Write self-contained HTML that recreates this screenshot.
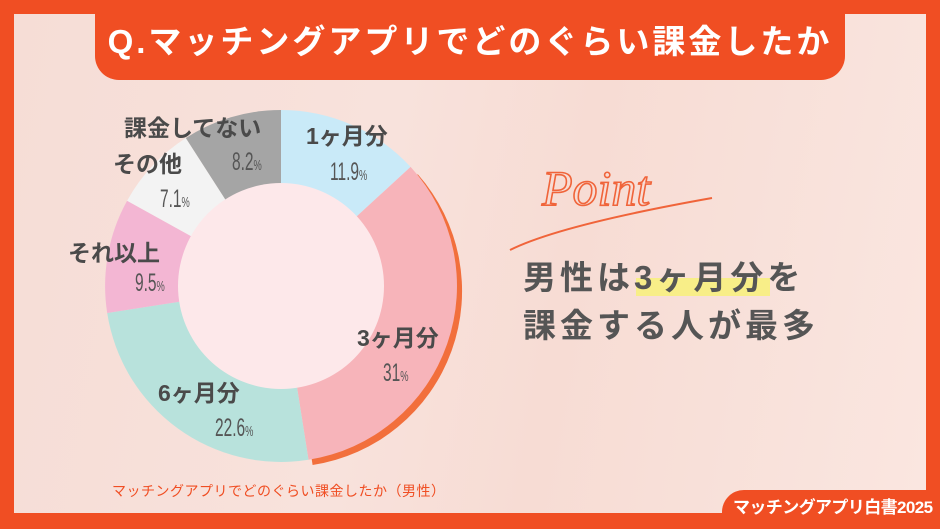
<!DOCTYPE html>
<html><head><meta charset="utf-8"><style>
*{margin:0;padding:0;box-sizing:border-box}
html,body{width:940px;height:529px;overflow:hidden}
body{position:relative;background:#F04E23;font-family:"Liberation Sans","Noto Sans CJK JP",sans-serif}
.inner{position:absolute;left:14px;top:14px;width:912px;height:499px;background:linear-gradient(100deg,#F6DDD6 0%,#F8E2DC 40%,#F7DCD4 60%,#FAE6E0 100%)}
.tab{position:absolute;left:95px;top:0;width:750px;height:80px;background:#F04E23;border-radius:0 0 24px 24px;color:#fff;font-weight:bold;font-size:33px;line-height:84px;text-align:center;letter-spacing:3px;white-space:nowrap}
.ft{position:absolute;left:722px;top:490px;width:218px;height:39px;background:#F04E23;border-radius:22px 0 0 0;color:#fff;font-weight:bold;font-size:17px;line-height:36px;padding-left:11px;letter-spacing:-0.6px;white-space:nowrap}
.l{position:absolute;font-weight:bold;color:#4a4a4a;font-size:23px;white-space:nowrap;line-height:1}
.n{position:absolute;color:#555;font-size:25px;white-space:nowrap;line-height:1;transform:scaleX(.62);transform-origin:left}
.n small{font-size:15px}
.cap{position:absolute;left:112px;top:481px;color:#F04E23;font-size:14px;white-space:nowrap;letter-spacing:.5px}
.m{position:absolute;left:523px;font-weight:bold;color:#555;font-size:33px;letter-spacing:4px;line-height:1;white-space:nowrap}
.hl{position:absolute;left:636px;top:278px;width:134px;height:18px;background:#F8EE88}
</style></head><body>
<div class="inner"></div>
<svg width="940" height="529" style="position:absolute;left:0;top:0">
<g transform="translate(281,286)">
<path d="M0,0 L131.8,-116.7 A176,176 0 0 1 26.6,174.0 Z" fill="#F26F3C" transform="translate(5,5)"/>
<path d="M0,0 L0,-176 A176,176 0 0 1 129.6,-119.1 Z" fill="#C9EAF8"/>
<path d="M0,0 L129.6,-119.1 A176,176 0 0 1 27.5,173.8 Z" fill="#F7B4BA"/>
<path d="M0,0 L27.5,173.8 A176,176 0 0 1 -173.8,27.0 Z" fill="#B8E2DC"/>
<path d="M0,0 L-173.8,27.0 A176,176 0 0 1 -153.9,-85.3 Z" fill="#F3B6D3"/>
<path d="M0,0 L-153.9,-85.3 A176,176 0 0 1 -95.2,-148.0 Z" fill="#F3F3F3"/>
<path d="M0,0 L-95.2,-148.0 A176,176 0 0 1 0,-176 Z" fill="#A5A5A5"/>
<circle r="103" fill="#FDE8EA"/>
</g>
<text x="542" y="205" font-family="Liberation Serif,serif" font-style="italic" font-size="50" fill="none" stroke="#F0643A" stroke-width="1.6">Point</text>
<path d="M510,250 Q560,225 712,198" stroke="#F0643A" stroke-width="2" fill="none"/>
</svg>
<div class="tab">Q.マッチングアプリでどのぐらい課金したか</div>
<div class="l" style="left:124px;top:117px">課金してない</div>
<div class="n" style="left:232px;top:150px">8.2<small>%</small></div>
<div class="l" style="left:306px;top:125px">1ヶ月分</div>
<div class="n" style="left:330px;top:160px">11.9<small>%</small></div>
<div class="l" style="left:113px;top:153px">その他</div>
<div class="n" style="left:160px;top:187px">7.1<small>%</small></div>
<div class="l" style="left:68px;top:242px">それ以上</div>
<div class="n" style="left:135px;top:271px">9.5<small>%</small></div>
<div class="l" style="left:357px;top:327px">3ヶ月分</div>
<div class="n" style="left:383px;top:361px">31<small>%</small></div>
<div class="l" style="left:158px;top:382px">6ヶ月分</div>
<div class="n" style="left:215px;top:416px">22.6<small>%</small></div>
<div class="cap">マッチングアプリでどのぐらい課金したか（男性）</div>
<div class="hl"></div>
<div class="m" style="top:261px">男性は3ヶ月分を</div>
<div class="m" style="top:309px">課金する人が最多</div>
<div class="ft">マッチングアプリ白書2025</div>
</body></html>
